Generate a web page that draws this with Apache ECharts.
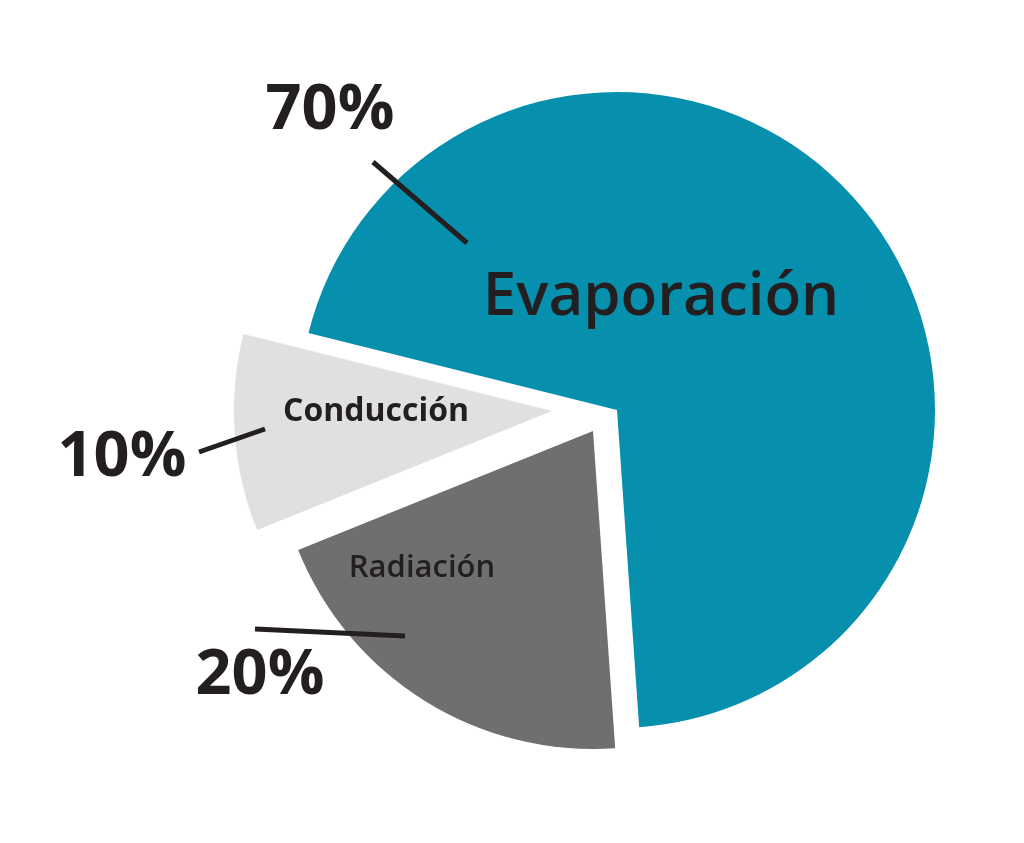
<!DOCTYPE html>
<html>
<head>
<meta charset="utf-8">
<style>
  html, body { margin: 0; padding: 0; background: #ffffff; }
  #chart { width: 1024px; height: 843px; }
</style>
<script src="https://cdn.jsdelivr.net/npm/echarts@6/dist/echarts.min.js"></script>
</head>
<body>
<div id="chart"></div>
<script>
// ---- Data ----
const categories = ['Evaporación', 'Radiación', 'Conducción'];
const values = [70, 20, 10];
const percentLabels = ['70%', '20%', '10%'];

// ---- Style / layout ----
const colors = ['#0690AE', '#6F706E', '#E0E0DF'];
const centers = [[617, 410], [593, 431], [552, 411]];
const nameFont = [{ size: 60, weight: 600 }, { size: 31, weight: 600 }, { size: 32, weight: 700 }];
const namePos = [[661, 298], [422, 568], [376, 412]];
const pctPos = [[330, 111], [260, 676], [122, 458]];
const lineEnds = [[[467, 243], [373, 162]], [[405, 636], [255, 629]], [[265, 429], [199, 452]]];
const textColor = '#231F20';
const fontFamily = '"Open Sans", "DejaVu Sans", sans-serif';

const chart = echarts.init(document.getElementById('chart'), null, { renderer: 'canvas' });

function buildData(owner, visible) {
  return categories.map((name, j) => ({
    name: name,
    value: values[j],
    itemStyle: { color: (visible && j === owner) ? colors[j] : 'rgba(0,0,0,0)', borderWidth: 0 },
    label: { show: j === owner },
    labelLine: { show: j === owner }
  }));
}

const series = [];
// slice series with inner name labels
categories.forEach((name, i) => {
  series.push({
    type: 'pie',
    center: centers[i],
    radius: 318,
    startAngle: 166,
    clockwise: true,
    silent: true,
    animation: false,
    avoidLabelOverlap: false,
    data: buildData(i, true),
    label: {
      position: 'inside',
      formatter: '{b}',
      color: textColor,
      fontFamily: fontFamily,
      fontSize: nameFont[i].size,
      fontWeight: nameFont[i].weight
    },
    labelLine: { show: false },
    labelLayout: function (p) {
      return { x: namePos[i][0], y: namePos[i][1], align: 'center', verticalAlign: 'middle' };
    }
  });
});
// percentage labels with leader lines
categories.forEach((name, i) => {
  series.push({
    type: 'pie',
    center: centers[i],
    radius: 318,
    startAngle: 166,
    clockwise: true,
    silent: true,
    animation: false,
    avoidLabelOverlap: false,
    z: 5,
    data: buildData(i, false),
    label: {
      position: 'outside',
      formatter: function (p) { return percentLabels[p.dataIndex]; },
      color: textColor,
      fontFamily: fontFamily,
      fontSize: 63,
      fontWeight: 700
    },
    labelLine: {
      show: true,
      length: 10,
      length2: 10,
      lineStyle: { color: textColor, width: 5 }
    },
    labelLayout: function (p) {
      const e = lineEnds[i];
      return {
        x: pctPos[i][0], y: pctPos[i][1], align: 'center', verticalAlign: 'middle',
        labelLinePoints: [e[0], e[1], e[1]]
      };
    }
  });
});

chart.setOption({
  backgroundColor: '#ffffff',
  animation: false,
  series: series
});
</script>
</body>
</html>
